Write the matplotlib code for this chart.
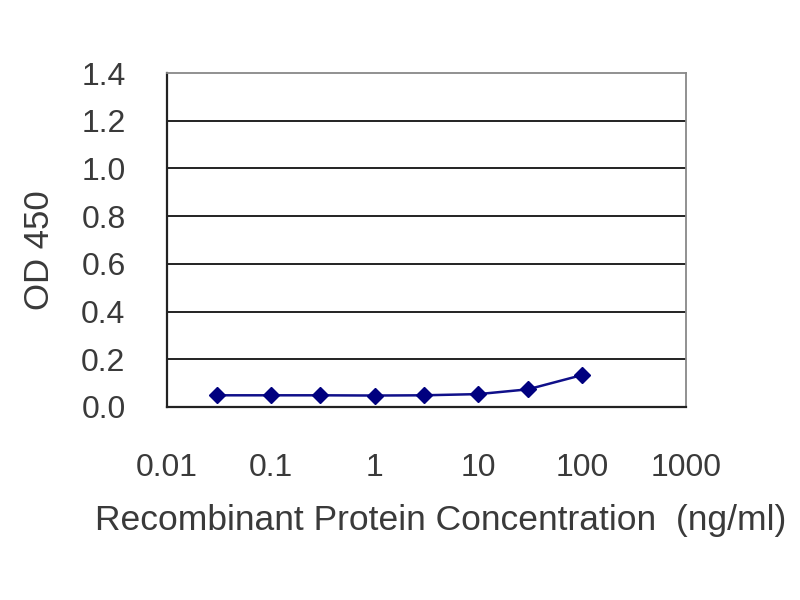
import matplotlib
matplotlib.use("Agg")
import matplotlib.pyplot as plt
from matplotlib.ticker import FixedLocator, NullLocator

conc = [0.03, 0.1, 0.3, 1, 3, 10, 30, 100]
od = [0.049, 0.049, 0.049, 0.048, 0.049, 0.054, 0.074, 0.134]
err = [0, 0, 0, 0, 0, 0, 0, 0.012]
xticks = [0.01, 0.1, 1, 10, 100, 1000]
xticklabels = ["0.01", "0.1", "1", "10", "100", "1000"]
yticks = [0.0, 0.2, 0.4, 0.6, 0.8, 1.0, 1.2, 1.4]
yticklabels = ["0.0", "0.2", "0.4", "0.6", "0.8", "1.0", "1.2", "1.4"]

plt.rcParams['font.family'] = ['Liberation Sans', 'DejaVu Sans']
fig = plt.figure(figsize=(8, 6), dpi=100)
ax = fig.add_axes([0.209, 0.3217, 0.6485, 0.5566])
ax.set_xscale('log')
ax.set_xlim(0.01, 1000)
ax.set_ylim(0, 1.4)

for y in yticks[1:-1]:
    ax.axhline(y, color='#222222', lw=1.4, zorder=1)

ax.errorbar(conc, od, yerr=err, color='#10108A', lw=1.8, marker='D', ms=8,
            mfc='#00007F', mec='#00007F', ecolor='#00007F', elinewidth=1.2,
            capsize=0, zorder=3)

ax.xaxis.set_major_locator(FixedLocator(xticks))
ax.xaxis.set_minor_locator(NullLocator())
ax.set_xticklabels(xticklabels)
ax.set_yticks(yticks)
ax.set_yticklabels(yticklabels)
ax.tick_params(axis='both', length=0, labelsize=23, labelcolor='#3a3a3a')
ax.tick_params(axis='x', pad=33)
ax.tick_params(axis='y', pad=30)

for s in ['left', 'bottom']:
    ax.spines[s].set_color('#222222')
    ax.spines[s].set_linewidth(1.6)
for s in ['top', 'right']:
    ax.spines[s].set_color('#888888')
    ax.spines[s].set_linewidth(1.3)

ax.set_xlabel('Recombinant Protein Concentration  (ng/ml)', fontsize=25.5,
              color='#3a3a3a')
ax.xaxis.set_label_coords(0.528, -0.29)
ax.set_ylabel('OD 450', fontsize=25, color='#3a3a3a')
ax.yaxis.set_label_coords(-0.215, 0.47)

fig.savefig('out.png', dpi=100)
